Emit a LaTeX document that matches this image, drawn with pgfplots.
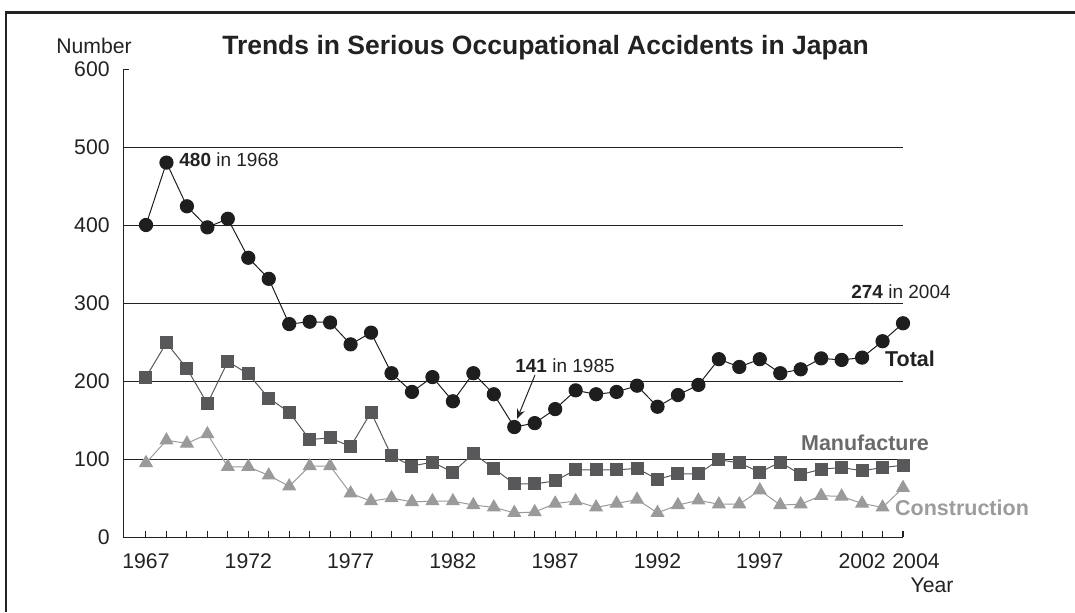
\documentclass[border=0pt]{standalone}
\usepackage{pgfplots}
\pgfplotsset{compat=1.18}
\usepackage{fontspec}
\setmainfont{Liberation Sans}
\usetikzlibrary{arrows.meta}
\definecolor{totc}{HTML}{1E1E1E}
\definecolor{manc}{HTML}{58585A}
\definecolor{conc}{HTML}{9A9A9A}
\definecolor{mant}{HTML}{6A6A6A}
\definecolor{cont}{HTML}{9C9C9C}
\definecolor{txt}{HTML}{222222}
\begin{document}
\begin{tikzpicture}[x=0.5pt,y=0.5pt]
\path[use as bounding box] (0,0) rectangle (1075,612);
\draw[line width=1.1pt,color=txt] (6,0) -- (6,599.5) -- (1075,599.5);
\begin{axis}[
  at={(61.5pt,37.5pt)}, anchor=south west,
  scale only axis, width=390pt, height=234pt,
  xmin=1965.876, xmax=2004, ymin=0, ymax=600,
  separate axis lines,
  axis x line*=bottom, axis y line*=left,
  axis line style={-, color=txt, line width=0.5pt},
  xtick={1967,1972,...,2002},
  minor xtick={1967,...,2004},
  extra x ticks={2004},
  extra x tick style={xticklabel style={xshift=6.5pt}},
  ytick={100,200,...,500},
  extra y ticks={0,600},
  extra y tick style={grid=none},
  ymajorgrids,
  major grid style={color=txt, line width=0.5pt},
  tick align=inside,
  major tick length=3pt, minor tick length=3pt,
  tick style={color=txt, line width=0.5pt},
  /pgf/number format/assume math mode=true,
  /pgf/number format/1000 sep={},
  ticklabel style={font=\fontsize{10.6}{12}\selectfont, text=txt},
  xticklabel style={anchor=north, inner sep=0pt, yshift=-8pt},
  yticklabel style={anchor=east, inner sep=0pt, xshift=-6.5pt},
  clip=false,
]
\addplot[color=totc, line width=0.5pt, mark=*, mark size=3.3pt, mark options={fill=totc, draw=totc}] coordinates {
(1967,400)(1968,480)(1969,424)(1970,397)(1971,408)(1972,358)(1973,331)(1974,273)(1975,276)(1976,275)
(1977,247)(1978,262)(1979,210)(1980,186)(1981,205)(1982,174)(1983,210)(1984,183)(1985,141)(1986,146)
(1987,164)(1988,188)(1989,183)(1990,186)(1991,194)(1992,167)(1993,182)(1994,195)(1995,228)(1996,218)
(1997,228)(1998,210)(1999,215)(2000,229)(2001,227)(2002,230)(2003,251)(2004,274)};
\addplot[color=manc, line width=0.5pt, mark=square*, mark size=3pt, mark options={fill=manc, draw=manc}] coordinates {
(1967,205)(1968,249)(1969,216)(1970,171)(1971,225)(1972,209)(1973,178)(1974,160)(1975,125)(1976,127)
(1977,116)(1978,160)(1979,104)(1980,91)(1981,96)(1982,83)(1983,107)(1984,88)(1985,68)(1986,68)
(1987,72)(1988,86)(1989,86)(1990,86)(1991,88)(1992,74)(1993,81)(1994,81)(1995,99)(1996,95)
(1997,83)(1998,96)(1999,80)(2000,87)(2001,89)(2002,85)(2003,89)(2004,92)};
\addplot[color=conc, line width=0.5pt, mark=triangle*, mark size=3.6pt, mark options={fill=conc, draw=conc}] coordinates {
(1967,95)(1968,124)(1969,120)(1970,132)(1971,90)(1972,90)(1973,79)(1974,65)(1975,91)(1976,91)
(1977,56)(1978,46)(1979,50)(1980,45)(1981,46)(1982,46)(1983,41)(1984,38)(1985,31)(1986,32)
(1987,43)(1988,46)(1989,38)(1990,43)(1991,48)(1992,31)(1993,41)(1994,47)(1995,42)(1996,42)
(1997,60)(1998,41)(1999,42)(2000,53)(2001,52)(2002,43)(2003,38)(2004,63)};
\end{axis}
\node[text=txt, font=\fontsize{10.6}{12}\selectfont] at (94,566) {Number};
\node[text=txt, font=\fontsize{13.25}{15}\bfseries] at (545.5,564) {Trends in Serious Occupational Accidents in Japan};
\node[text=txt, anchor=west, inner sep=0pt, font=\fontsize{9.5}{11}\selectfont] at (179,452) {\textbf{480} in 1968};
\node[text=txt, font=\fontsize{9.5}{11}\selectfont] at (565,246) {\textbf{141} in 1985};
\draw[color=txt, line width=0.5pt, -{Stealth[length=5pt,width=4pt]}] (535,237) -- (517,193);
\node[text=txt, font=\fontsize{9.5}{11}\selectfont] at (901,320) {\textbf{274} in 2004};
\node[text=txt, font=\fontsize{10.75}{12}\bfseries] at (910,253) {Total};
\node[text=mant, font=\fontsize{10.75}{12}\bfseries] at (865,169) {Manufacture};
\node[text=cont, font=\fontsize{10.75}{12}\bfseries] at (962,104) {Construction};
\node[text=txt, font=\fontsize{10.6}{12}\selectfont] at (932,27) {Year};
\end{tikzpicture}
\end{document}
